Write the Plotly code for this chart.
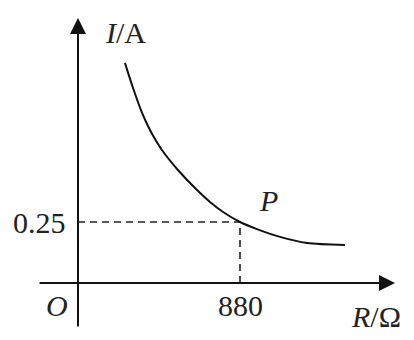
import plotly.graph_objects as go

# Curve points (R in ohm, I in A)
curve_R = [255, 299, 348, 391, 456, 543, 641, 717, 788, 880, 972, 1097, 1244, 1450]
curve_I = [0.902, 0.799, 0.697, 0.627, 0.545, 0.463, 0.385, 0.332, 0.291, 0.25, 0.221, 0.189, 0.164, 0.156]

# Point P
p_R = 880
p_I = 0.25

x_tick_labels = ["880"]
y_tick_labels = ["0.25"]

FONT = "Liberation Serif"
FS = 30

fig = go.Figure()

# dashed guide lines
fig.add_trace(go.Scatter(x=[0, p_R, p_R], y=[p_I, p_I, 0], mode="lines",
                         line=dict(color="#222", width=1.6, dash="7px,5px"),
                         hoverinfo="skip", showlegend=False))
# curve
fig.add_trace(go.Scatter(x=curve_R, y=curve_I, mode="lines",
                         line=dict(color="#111", width=2, shape="spline", smoothing=0.8),
                         hoverinfo="skip", showlegend=False))

ann = []
# axes with arrows
ann.append(dict(x=1722, y=0, ax=-217, ay=0, xref="x", yref="y", axref="x", ayref="y",
                text="", showarrow=True, arrowhead=2, arrowsize=1.6, arrowwidth=2,
                arrowcolor="#111"))
ann.append(dict(x=0, y=1.086, ax=0, ay=-0.184, xref="x", yref="y", axref="x", ayref="y",
                text="", showarrow=True, arrowhead=2, arrowsize=1.6, arrowwidth=2,
                arrowcolor="#111"))
# tick labels
ann.append(dict(x=0, y=p_I, xref="x", yref="y", text=y_tick_labels[0], showarrow=False,
                xanchor="right", yanchor="middle", xshift=-10,
                font=dict(family=FONT, size=FS, color="#222")))
ann.append(dict(x=p_R, y=0, xref="x", yref="y", text=x_tick_labels[0], showarrow=False,
                xanchor="center", yanchor="top", yshift=-4,
                font=dict(family=FONT, size=FS, color="#222")))
# origin
ann.append(dict(x=57, y=305, xref="paper", yref="paper", text="<i>O</i>", showarrow=False,
                font=dict(family=FONT, size=FS, color="#222")))
# P label
ann.append(dict(x=268, y=200, xref="paper", yref="paper", text="<i>P</i>", showarrow=False,
                font=dict(family=FONT, size=FS, color="#222")))
# axis titles
ann.append(dict(x=376, y=316, xref="paper", yref="paper", text="<i>R</i>/Ω", showarrow=False,
                font=dict(family=FONT, size=FS, color="#222")))
ann.append(dict(x=125, y=32, xref="paper", yref="paper", text="<i>I</i>/A", showarrow=False,
                font=dict(family=FONT, size=FS, color="#222")))

# convert pixel positions for paper annotations
for a in ann:
    if a["xref"] == "paper":
        a["x"] = a["x"] / 414
        a["y"] = 1 - a["y"] / 340
        a["xanchor"] = "center"
        a["yanchor"] = "middle"

fig.update_layout(
    width=414, height=340,
    margin=dict(l=0, r=0, t=0, b=0),
    paper_bgcolor="white", plot_bgcolor="white",
    xaxis=dict(range=[-423.7, 1825.2], visible=False),
    yaxis=dict(range=[-0.2336, 1.1598], visible=False),
    annotations=ann,
)

fig.write_html("out.html")
